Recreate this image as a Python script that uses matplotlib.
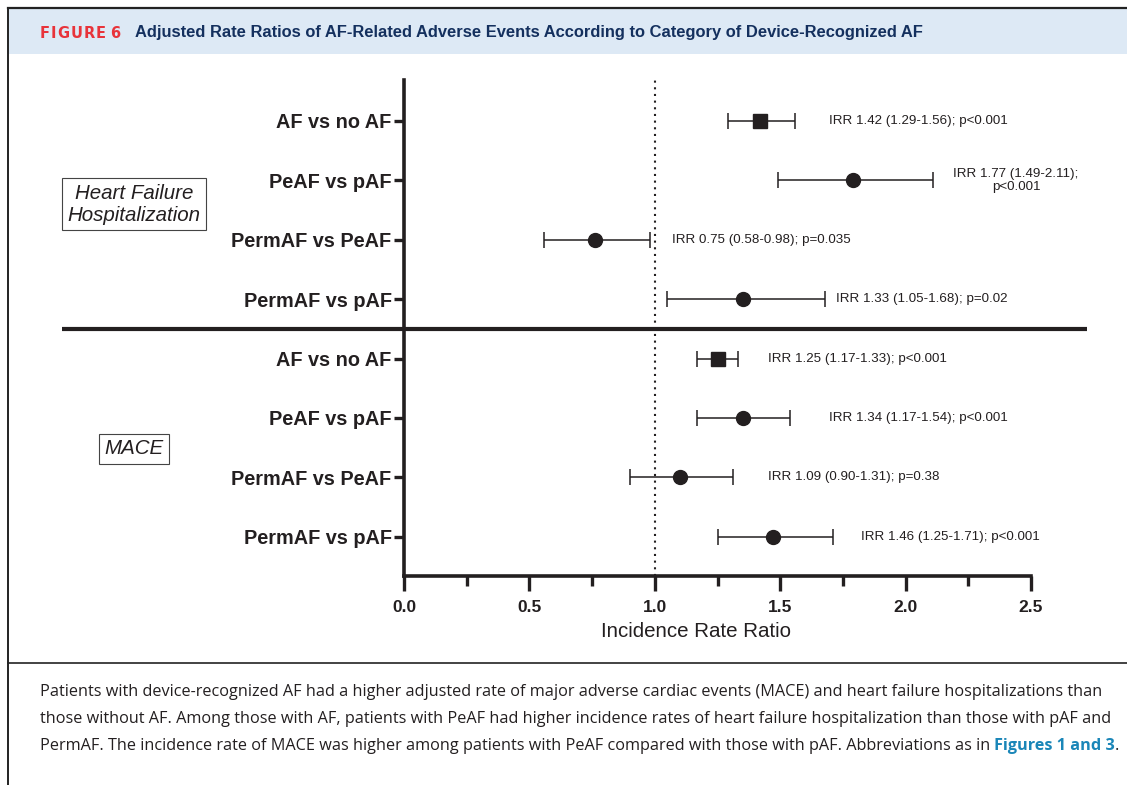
import matplotlib
matplotlib.use("Agg")
import matplotlib.pyplot as plt
from matplotlib.patches import Rectangle
from matplotlib.lines import Line2D

# data (rows top -> bottom)
groups = ["Heart Failure\nHospitalization", "MACE"]
row_labels = ["AF vs no AF", "PeAF vs pAF", "PermAF vs PeAF", "PermAF vs pAF",
              "AF vs no AF", "PeAF vs pAF", "PermAF vs PeAF", "PermAF vs pAF"]
irr = [1.42, 1.79, 0.76, 1.35, 1.25, 1.35, 1.10, 1.47]
ci_low = [1.29, 1.49, 0.56, 1.05, 1.17, 1.17, 0.90, 1.25]
ci_high = [1.56, 2.11, 0.98, 1.68, 1.33, 1.54, 1.31, 1.71]
markers = ["s", "o", "o", "o", "s", "o", "o", "o"]
irr_text = ["IRR 1.42 (1.29-1.56); p<0.001", "IRR 1.77 (1.49-2.11);\np<0.001",
            "IRR 0.75 (0.58-0.98); p=0.035", "IRR 1.33 (1.05-1.68); p=0.02",
            "IRR 1.25 (1.17-1.33); p<0.001", "IRR 1.34 (1.17-1.54); p<0.001",
            "IRR 1.09 (0.90-1.31); p=0.38", "IRR 1.46 (1.25-1.71); p<0.001"]
text_x = [1.695, 2.44, 1.07, 1.722, 1.451, 1.695, 1.451, 1.822]
x_ticks = [0.0, 0.5, 1.0, 1.5, 2.0, 2.5]

fig_label = "FIGURE 6"
title = "Adjusted Rate Ratios of AF-Related Adverse Events According to Category of Device-Recognized AF"
caption = [
    "Patients with device-recognized AF had a higher adjusted rate of major adverse cardiac events (MACE) and heart failure hospitalizations than",
    "those without AF. Among those with AF, patients with PeAF had higher incidence rates of heart failure hospitalization than those with pAF and",
    "PermAF. The incidence rate of MACE was higher among patients with PeAF compared with those with pAF. Abbreviations as in ",
]

W, H = 1127, 785
fig = plt.figure(figsize=(W / 100, H / 100), dpi=100)
plt.rcParams["font.family"] = ["Liberation Sans", "DejaVu Sans"]
dark = "#231f20"


def fx(px):
    return px / W


def fy(py):
    return 1 - py / H


# frame + header band
fig.patches.append(Rectangle((fx(9), fy(54)), 1, fy(9) - fy(54), transform=fig.transFigure,
                             facecolor="#dde9f5", edgecolor="none"))
fig.add_artist(Line2D([fx(8), 1], [fy(8), fy(8)], color="#222222", lw=1.6))
fig.add_artist(Line2D([fx(8), fx(8)], [0, fy(8)], color="#222222", lw=1.4))
fig.add_artist(Line2D([fx(8), 1], [fy(663), fy(663)], color="#222222", lw=1.2))

fig.canvas.draw()
r = fig.canvas.get_renderer()

# letter-spaced red label
x = 40
for ch in fig_label:
    t = fig.text(fx(x), fy(33), ch, color="#e8333a", fontsize=10.5, fontweight="bold",
                 va="center", ha="left", family=["DejaVu Sans"])
    x = t.get_window_extent(r).x1 + 1 if ch != " " else x + 3
fig.text(fx(135), fy(33), title, color="#14305e", fontsize=11.9, fontweight="bold",
         va="center", ha="left")

# forest plot
ax = fig.add_axes([fx(404), fy(576), fx(1031) - fx(404), fy(80) - fy(576)])
rows = list(range(len(row_labels)))
for i in rows:
    ax.errorbar(irr[i], i, xerr=[[irr[i] - ci_low[i]], [ci_high[i] - irr[i]]], fmt=markers[i],
                color=dark, ms=10 if markers[i] == "o" else 9.5, elinewidth=1.1, capsize=6,
                capthick=1.1, zorder=3)
    ax.text(text_x[i], i, irr_text[i], fontsize=9.6, color=dark, va="center",
            ha="center" if "\n" in irr_text[i] else "left", linespacing=1.1)

ax.axvline(1.0, color=dark, lw=1.5, ls=(0, (1, 2.2)), zorder=1)
ax.plot([-1.364, 2.723], [3.5, 3.5], color=dark, lw=3, clip_on=False, solid_capstyle="butt")

ax.set_xlim(0, 2.5)
ax.set_ylim(7.66, -0.69)
ax.set_xticks(x_ticks)
ax.set_xticklabels([f"{v:.1f}" for v in x_ticks], fontsize=12.5, fontweight="bold", color=dark)
ax.set_xticks([0.25, 0.75, 1.25, 1.75, 2.25], minor=True)
ax.set_yticks(rows)
ax.set_yticklabels(row_labels, fontsize=14.3, fontweight="bold", color=dark)
ax.tick_params(axis="x", which="major", length=11, width=2.4, color=dark, pad=6)
ax.tick_params(axis="x", which="minor", length=7, width=2.4, color=dark)
ax.tick_params(axis="y", length=7, width=2.4, color=dark, pad=2)
for s in ["top", "right"]:
    ax.spines[s].set_visible(False)
for s in ["left", "bottom"]:
    ax.spines[s].set_linewidth(2.6)
    ax.spines[s].set_color(dark)
ax.set_xlabel("Incidence Rate Ratio", fontsize=14.8, color=dark)
ax.xaxis.set_label_coords(0.466, -0.111)
ax.xaxis.label.set_va("center")

ax.text(-1.077, 1.4, groups[0], fontsize=14.8, style="italic", color=dark, ha="center",
        va="center", linespacing=1.2,
        bbox=dict(boxstyle="square,pad=0.27", facecolor="white", edgecolor="#444444", lw=0.8))
ax.text(-1.077, 5.52, groups[1], fontsize=14.8, style="italic", color=dark, ha="center",
        va="center",
        bbox=dict(boxstyle="square,pad=0.27", facecolor="white", edgecolor="#444444", lw=0.8))

# caption
cap_font = ["Open Sans", "DejaVu Sans"]
cap_size = 11.7
for k, line in enumerate(caption):
    t = fig.text(fx(40), fy(692 + 27 * k), line, fontsize=cap_size, color="#231f20",
                 va="center", ha="left", family=cap_font)
fig.canvas.draw()
bb = t.get_window_extent(r)
t2 = fig.text(bb.x1 / W, fy(746), "Figures 1 and 3", fontsize=cap_size, color="#1a86b8",
              fontweight="bold", va="center", ha="left", family=cap_font)
bb2 = t2.get_window_extent(r)
fig.text(bb2.x1 / W, fy(746), ".", fontsize=cap_size, color="#231f20", va="center", ha="left",
         family=cap_font)

fig.savefig("out.png", dpi=100)
